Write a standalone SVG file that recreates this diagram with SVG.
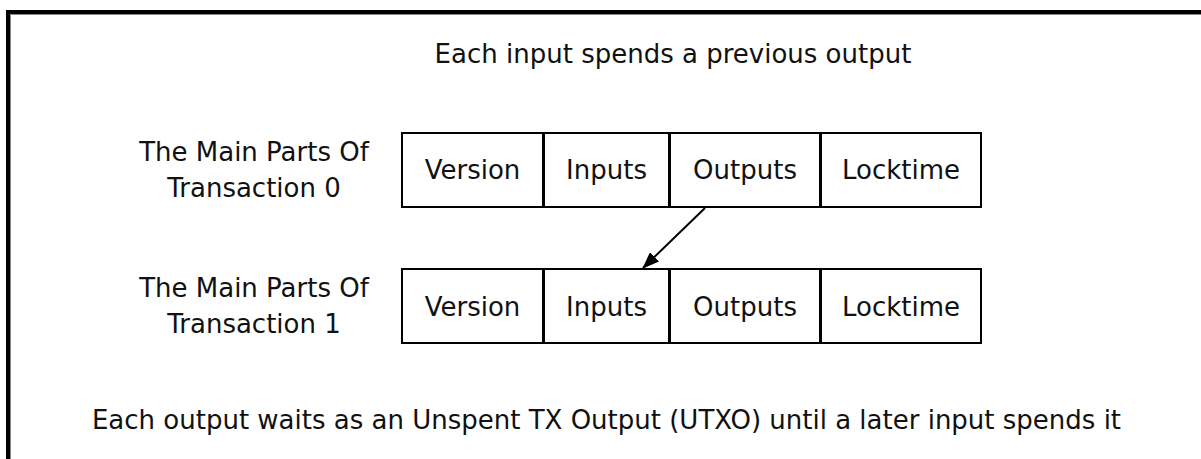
<svg xmlns="http://www.w3.org/2000/svg" width="1201" height="459" viewBox="0 0 1201 459">
  <style>
    text { font-family: "DejaVu Sans", Verdana, sans-serif; font-size: 26px; fill: #111; }
    .c { text-anchor: middle; }
    .box { fill: #fff; stroke: #000; stroke-width: 2; }
    .conn { stroke: #000; stroke-width: 2; fill: none; }
  </style>
  <defs>
    <marker id="arrow" markerWidth="17" markerHeight="13" refX="16" refY="6.5" orient="auto" markerUnits="userSpaceOnUse" viewBox="0 0 17 13">
      <path d="M0,0 L17,6.5 L0,13 z" fill="#000"/>
    </marker>
  </defs>
  <rect width="1201" height="459" fill="#fff"/>
  <g id="frame">
    <path d="M8,470 L8,12 L1210,12" fill="none" stroke="#000" stroke-width="4"/>
    <path d="M10.5,470 L10.5,14.5 L1210,14.5" fill="none" stroke="#888" stroke-width="1"/>
  </g>
  <g id="title-top"><text class="c" x="673" y="63">Each input spends a previous output</text></g>
  <g id="title-bottom"><text class="c" x="606.5" y="429">Each output waits as an Unspent TX Output (UTXO) until a later input spends it</text></g>

  <g id="label-tx0">
    <text class="c" x="254" y="161">The Main Parts Of</text>
    <text class="c" x="254" y="197">Transaction 0</text>
  </g>
  <g id="label-tx1">
    <text class="c" x="254" y="297">The Main Parts Of</text>
    <text class="c" x="254" y="333">Transaction 1</text>
  </g>

  <g id="tx0-version"><rect class="box" x="402" y="133" width="141" height="74"/><text class="c" x="472.5" y="179">Version</text></g>
  <g id="tx0-inputs"><rect class="box" x="544" y="133" width="125" height="74"/><text class="c" x="606.5" y="179">Inputs</text></g>
  <g id="tx0-outputs"><rect class="box" x="670" y="133" width="150" height="74"/><text class="c" x="745" y="179">Outputs</text></g>
  <g id="tx0-locktime"><rect class="box" x="821" y="133" width="160" height="74"/><text class="c" x="901" y="179">Locktime</text></g>

  <g id="tx1-version"><rect class="box" x="402" y="269" width="141" height="74"/><text class="c" x="472.5" y="316">Version</text></g>
  <g id="tx1-inputs"><rect class="box" x="544" y="269" width="125" height="74"/><text class="c" x="606.5" y="316">Inputs</text></g>
  <g id="tx1-outputs"><rect class="box" x="670" y="269" width="150" height="74"/><text class="c" x="745" y="316">Outputs</text></g>
  <g id="tx1-locktime"><rect class="box" x="821" y="269" width="160" height="74"/><text class="c" x="901" y="316">Locktime</text></g>

  <g id="connectors">
    <line class="conn" x1="705" y1="208" x2="643" y2="268" marker-end="url(#arrow)"/>
  </g>
</svg>
